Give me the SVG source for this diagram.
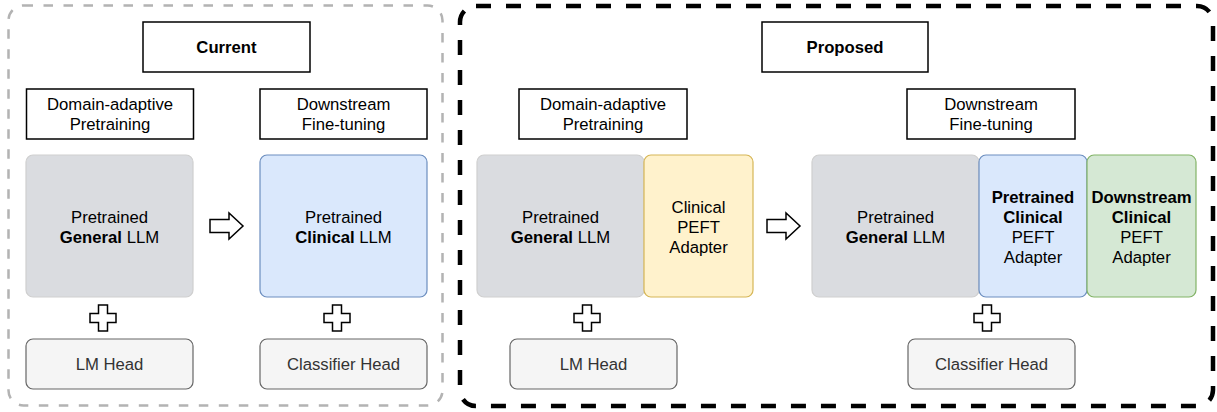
<svg xmlns="http://www.w3.org/2000/svg" width="1217" height="412" viewBox="0 0 1217 412">
<style>
text{font-family:"Liberation Sans",Arial,Helvetica,sans-serif;font-size:16.7px;fill:#000;text-anchor:middle}
.b{font-weight:bold}
.lbl{fill:#fff;stroke:#000;stroke-width:1.5}
.gray{fill:#dadce0;stroke:#cfcfcf;stroke-width:1.2}
.blue{fill:#dae8fc;stroke:#6c8ebf;stroke-width:1.2}
.yel{fill:#fff2cc;stroke:#d6b656;stroke-width:1.2}
.grn{fill:#d5e8d4;stroke:#82b366;stroke-width:1.2}
.head{fill:#f5f5f5;stroke:#666;stroke-width:1.2}
.ht{fill:#333}
.sym{fill:#fff;stroke:#000;stroke-width:1.5;stroke-linejoin:miter}
</style>
<rect width="1217" height="412" fill="#fff"/>
<g id="container-current">
<rect x="8.5" y="5.5" width="434" height="400" rx="15" fill="none" stroke="#b3b3b3" stroke-width="2.5" stroke-dasharray="9.5 10.5"/>
</g>
<g id="container-proposed">
<rect x="460" y="6" width="753" height="400" rx="16" fill="none" stroke="#000" stroke-width="4.5" stroke-dasharray="15 15"/>
</g>
<g id="current-title"><rect class="lbl" x="143" y="22" width="167" height="50"/><text class="b" x="226.5" y="53">Current</text></g>
<g id="current-dapt"><rect class="lbl" x="26.5" y="89" width="167" height="50"/><text x="110" y="110">Domain-adaptive</text><text x="110" y="130">Pretraining</text></g>
<g id="current-ft"><rect class="lbl" x="260" y="89" width="167" height="50"/><text x="343.5" y="110">Downstream</text><text x="343.5" y="130">Fine-tuning</text></g>
<g id="current-general"><rect class="gray" x="26" y="155" width="167" height="142" rx="7"/><text x="109.5" y="223">Pretrained</text><text x="109.5" y="243"><tspan class="b">General</tspan> LLM</text></g>
<g id="current-clinical"><rect class="blue" x="260" y="155" width="167" height="142" rx="7"/><text x="343.5" y="223">Pretrained</text><text x="343.5" y="243"><tspan class="b">Clinical</tspan> LLM</text></g>
<g id="current-lmhead"><rect class="head" x="26" y="339" width="167" height="50" rx="7"/><text class="ht" x="109.5" y="370">LM Head</text></g>
<g id="current-clshead"><rect class="head" x="260" y="339" width="167" height="50" rx="7"/><text class="ht" x="343.5" y="370">Classifier Head</text></g>
<g id="proposed-title"><rect class="lbl" x="762" y="22" width="166" height="50"/><text class="b" x="845" y="53">Proposed</text></g>
<g id="proposed-dapt"><rect class="lbl" x="519" y="89" width="168" height="50"/><text x="603" y="110">Domain-adaptive</text><text x="603" y="130">Pretraining</text></g>
<g id="proposed-ft"><rect class="lbl" x="907" y="89" width="168" height="50"/><text x="991" y="110">Downstream</text><text x="991" y="130">Fine-tuning</text></g>
<g id="proposed-general1"><rect class="gray" x="477" y="155" width="167" height="142" rx="7"/><text x="560.5" y="223">Pretrained</text><text x="560.5" y="243"><tspan class="b">General</tspan> LLM</text></g>
<g id="proposed-clinical-adapter"><rect class="yel" x="644" y="155" width="109" height="142" rx="7"/><text x="698.5" y="213">Clinical</text><text x="698.5" y="233">PEFT</text><text x="698.5" y="253">Adapter</text></g>
<g id="proposed-general2"><rect class="gray" x="812" y="155" width="167" height="142" rx="7"/><text x="895.5" y="223">Pretrained</text><text x="895.5" y="243"><tspan class="b">General</tspan> LLM</text></g>
<g id="proposed-pre-clinical-adapter"><rect class="blue" x="979" y="155" width="108" height="142" rx="7"/><text class="b" x="1033" y="203">Pretrained</text><text class="b" x="1033" y="223">Clinical</text><text x="1033" y="243">PEFT</text><text x="1033" y="263">Adapter</text></g>
<g id="proposed-down-clinical-adapter"><rect class="grn" x="1087" y="155" width="109" height="142" rx="7"/><text class="b" x="1141.5" y="203">Downstream</text><text class="b" x="1141.5" y="223">Clinical</text><text x="1141.5" y="243">PEFT</text><text x="1141.5" y="263">Adapter</text></g>
<g id="proposed-lmhead"><rect class="head" x="510" y="339" width="167" height="50" rx="7"/><text class="ht" x="593.5" y="370">LM Head</text></g>
<g id="proposed-clshead"><rect class="head" x="908" y="339" width="167" height="50" rx="7"/><text class="ht" x="991.5" y="370">Classifier Head</text></g>
<g id="connectors">
<defs>
<path id="arr" d="M0,-6.5 H19 V-13 L33,0 L19,13 V6.5 H0 Z"/>
<path id="plus" d="M-4.5,-13 H4.5 V-4.5 H13 V4.5 H4.5 V13 H-4.5 V4.5 H-13 V-4.5 H-4.5 Z"/>
</defs>
<use href="#arr" class="sym" x="210" y="226"/>
<use href="#arr" class="sym" x="767" y="226"/>
<use href="#plus" class="sym" x="103" y="318"/>
<use href="#plus" class="sym" x="337" y="318"/>
<use href="#plus" class="sym" x="587" y="318"/>
<use href="#plus" class="sym" x="987" y="318"/>
</g>
</svg>
